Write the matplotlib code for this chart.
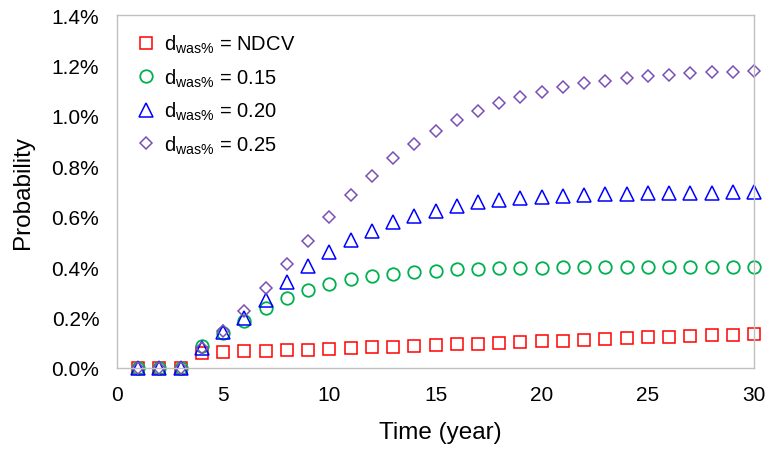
import matplotlib
matplotlib.use('Agg')
import matplotlib.pyplot as plt
from matplotlib.ticker import FuncFormatter

plt.rcParams['font.family'] = ['Liberation Sans', 'DejaVu Sans']

# years
years = list(range(1, 31))

# probabilities in %
p_ndcv = [0, 0, 0, 0.060, 0.065, 0.067, 0.069, 0.071, 0.073, 0.076,
          0.079, 0.082, 0.085, 0.088, 0.091, 0.094, 0.097, 0.100, 0.103, 0.106,
          0.109, 0.112, 0.115, 0.118, 0.121, 0.124, 0.127, 0.130, 0.132, 0.135]
p_015 = [0, 0, 0, 0.087, 0.139, 0.187, 0.238, 0.278, 0.310, 0.334,
         0.353, 0.365, 0.373, 0.380, 0.386, 0.391, 0.393, 0.395, 0.397, 0.398,
         0.399, 0.400, 0.400, 0.400, 0.400, 0.400, 0.400, 0.400, 0.400, 0.400]
p_020 = [0, 0, 0, 0.080, 0.142, 0.200, 0.270, 0.340, 0.405, 0.460,
         0.508, 0.545, 0.578, 0.604, 0.624, 0.643, 0.658, 0.667, 0.673, 0.679,
         0.683, 0.687, 0.689, 0.692, 0.694, 0.695, 0.696, 0.696, 0.697, 0.697]
p_025 = [0, 0, 0, 0.080, 0.145, 0.226, 0.317, 0.413, 0.504, 0.600,
         0.686, 0.762, 0.833, 0.889, 0.940, 0.984, 1.020, 1.052, 1.075, 1.095,
         1.115, 1.131, 1.139, 1.151, 1.159, 1.163, 1.170, 1.174, 1.175, 1.178]

labels = [r'$\mathregular{d_{was\%}}$ = NDCV',
          r'$\mathregular{d_{was\%}}$ = 0.15',
          r'$\mathregular{d_{was\%}}$ = 0.20',
          r'$\mathregular{d_{was\%}}$ = 0.25']

fig = plt.figure(figsize=(7.69, 4.52), dpi=100)
ax = fig.add_axes([117 / 769, 1 - 369 / 452, (754 - 117) / 769, (369 - 16) / 452])

ax.plot(years, p_ndcv, 's', mfc='none', mec='#FF0000', ms=8.5, mew=1.1, label=labels[0], clip_on=False)
ax.plot(years, p_015, 'o', mfc='none', mec='#00B050', ms=9, mew=1.3, label=labels[1], clip_on=False)
ax.plot(years, p_020, '^', mfc='none', mec='#0000FF', ms=9.5, mew=1.1, label=labels[2], clip_on=False)
ax.plot(years, p_025, 'D', mfc='none', mec='#7B4FB8', ms=6.5, mew=1.1, label=labels[3], clip_on=False)

ax.set_xlim(0, 30)
ax.set_ylim(0, 1.4)
ax.set_xticks(range(0, 31, 5))
ax.set_yticks([0, 0.2, 0.4, 0.6, 0.8, 1.0, 1.2, 1.4])
ax.yaxis.set_major_formatter(FuncFormatter(lambda v, pos: '%.1f%%' % v))
ax.tick_params(length=0, labelsize=15)
ax.tick_params(axis='x', pad=12.5)
ax.tick_params(axis='y', pad=12.7)

for s in ax.spines.values():
    s.set_color('#C0C0C0')
    s.set_linewidth(1)

ax.set_xlabel('Time (year)', fontsize=17.5)
ax.xaxis.set_label_coords(0.507, -0.149)
ax.set_ylabel('Probability', fontsize=17.5, labelpad=12.5)

ax.legend(loc='upper left', frameon=False, fontsize=14.5, handletextpad=0.35,
          borderaxespad=0.5, labelspacing=0.55, handlelength=1.1)

fig.savefig('out.png', dpi=100)
